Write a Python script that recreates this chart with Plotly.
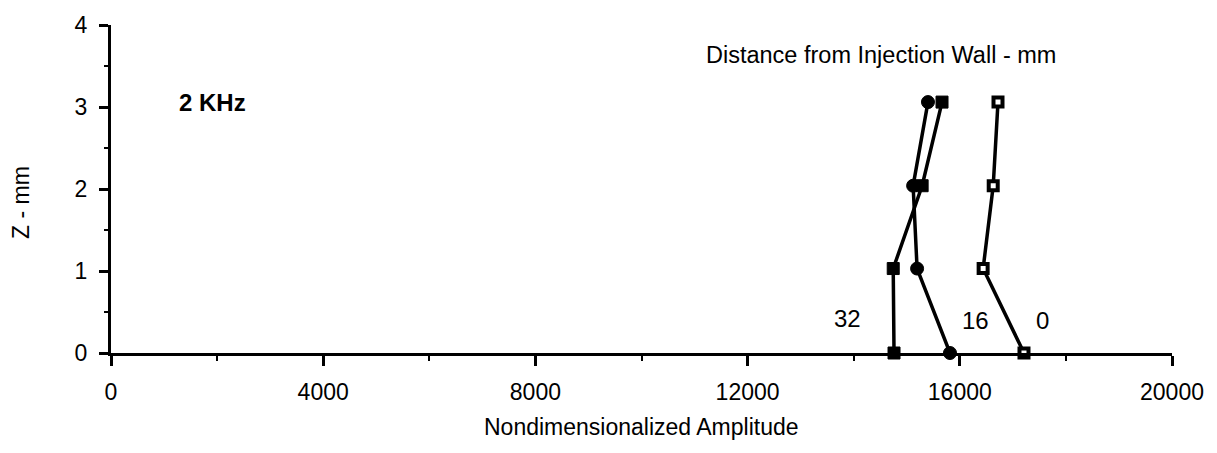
import plotly.graph_objects as go

# Data
z_mm = [0, 1.03, 2.04, 3.06]
amp_0mm = [17210, 16440, 16630, 16720]
amp_16mm = [15815, 15195, 15120, 15400]
amp_32mm = [14760, 14745, 15290, 15665]
series_names = ["0", "16", "32"]

x_ticks = [0, 4000, 8000, 12000, 16000, 20000]
y_ticks = [0, 1, 2, 3, 4]

FONT = "Liberation Sans, Arial, Helvetica, sans-serif"

fig = go.Figure()

fig.add_trace(go.Scatter(
    x=amp_32mm, y=z_mm, mode="lines+markers", name=series_names[2],
    line=dict(color="black", width=3.5),
    marker=dict(symbol="square", size=12, color="black", line=dict(color="black", width=1)),
    cliponaxis=False,
))
fig.add_trace(go.Scatter(
    x=amp_16mm, y=z_mm, mode="lines+markers", name=series_names[1],
    line=dict(color="black", width=3.5),
    marker=dict(symbol="circle", size=13, color="black", line=dict(color="black", width=1)),
    cliponaxis=False,
))
fig.add_trace(go.Scatter(
    x=amp_0mm, y=z_mm, mode="lines+markers", name=series_names[0],
    line=dict(color="black", width=3.5),
    marker=dict(symbol="square", size=9, color="white", line=dict(color="black", width=4)),
    cliponaxis=False,
))

annotations = [
    dict(x=13890, y=0.42, text="32", xref="x", yref="y", showarrow=False,
         font=dict(size=24, color="black", family=FONT)),
    dict(x=16290, y=0.40, text="16", xref="x", yref="y", showarrow=False,
         font=dict(size=24, color="black", family=FONT)),
    dict(x=17550, y=0.40, text="0", xref="x", yref="y", showarrow=False,
         font=dict(size=24, color="black", family=FONT)),
    dict(x=1920, y=3.06, text="<b>2 KHz</b>", xref="x", yref="y", showarrow=False,
         font=dict(size=24, color="black", family=FONT)),
    dict(x=14520, y=3.64, text="Distance from Injection Wall - mm", xref="x", yref="y",
         showarrow=False, font=dict(size=23.5, color="black", family=FONT)),
    dict(x=0.5, y=-0.225, xref="paper", yref="paper", text="Nondimensionalized Amplitude",
         showarrow=False, yanchor="middle", font=dict(size=23, color="black", family=FONT)),
    dict(x=-0.085, y=0.46, xref="paper", yref="paper", text="Z - mm", textangle=-90,
         showarrow=False, xanchor="center", yanchor="middle",
         font=dict(size=23, color="black", family=FONT)),
]

fig.update_layout(
    width=1217, height=453,
    margin=dict(l=111, r=45, t=18, b=100),
    paper_bgcolor="white", plot_bgcolor="white",
    showlegend=False,
    font=dict(family=FONT, size=23, color="black"),
    annotations=annotations,
    xaxis=dict(
        range=[0, 20000], tickvals=x_ticks, ticktext=[str(v) for v in x_ticks],
        showgrid=False, zeroline=False, showline=True, linecolor="black", linewidth=3,
        ticks="outside", ticklen=10, tickwidth=2.5, tickcolor="black",
        minor=dict(dtick=2000, ticks="outside", ticklen=5, tickwidth=2, tickcolor="black"),
        ticklabelstandoff=6,
        tickfont=dict(size=23, family=FONT, color="black"),
    ),
    yaxis=dict(
        range=[0, 4], tickvals=y_ticks, ticktext=[str(v) for v in y_ticks],
        showgrid=False, zeroline=False, showline=True, linecolor="black", linewidth=3,
        ticks="outside", ticklen=9, tickwidth=2.5, tickcolor="black",
        minor=dict(dtick=0.5, ticks="outside", ticklen=4, tickwidth=2, tickcolor="black"),
        ticklabelstandoff=7,
        tickfont=dict(size=23, family=FONT, color="black"),
    ),
)

fig.write_html("out.html")
